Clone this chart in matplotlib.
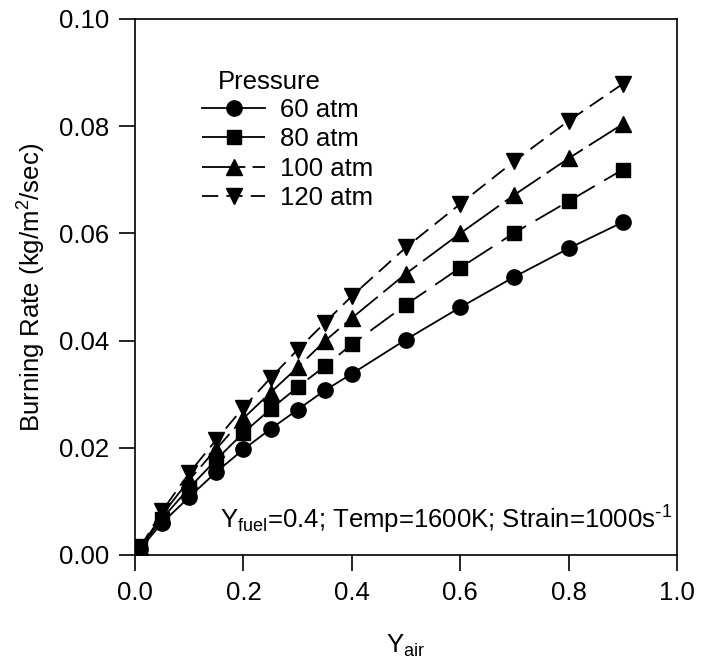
import matplotlib
matplotlib.use("Agg")
import matplotlib.pyplot as plt

plt.rcParams['font.family'] = ['Liberation Sans', 'DejaVu Sans']
plt.rcParams['mathtext.default'] = 'regular'

y_air = [0.01, 0.05, 0.10, 0.15, 0.20, 0.25, 0.30, 0.35, 0.40, 0.50, 0.60, 0.70, 0.80, 0.90]
rate_60 = [0.0012, 0.0060, 0.0108, 0.0155, 0.0197, 0.0235, 0.0271, 0.0307, 0.0338, 0.0402, 0.0462, 0.0519, 0.0572, 0.0621]
rate_80 = [0.0013, 0.0068, 0.0125, 0.0178, 0.0228, 0.0272, 0.0313, 0.0352, 0.0393, 0.0467, 0.0536, 0.0601, 0.0660, 0.0719]
rate_100 = [0.0014, 0.0075, 0.0140, 0.0198, 0.0255, 0.0303, 0.0350, 0.0399, 0.0442, 0.0525, 0.0600, 0.0672, 0.0740, 0.0804]
rate_120 = [0.0015, 0.0082, 0.0153, 0.0215, 0.0275, 0.0330, 0.0383, 0.0433, 0.0483, 0.0574, 0.0655, 0.0735, 0.0810, 0.0879]
labels = ["60 atm", "80 atm", "100 atm", "120 atm"]

FS = 18.5
fig = plt.figure(figsize=(7.08, 6.69), dpi=100)
ax = fig.add_axes([135/708, 1-555/669, (677-135)/708, (555-19)/669])

lw = 1.3
ax.plot(y_air, rate_60, color='black', lw=lw, linestyle='-', marker='o', markersize=11, label=labels[0])
ax.plot(y_air, rate_80, color='black', lw=lw, linestyle=(0, (16, 6)), marker='s', markersize=9.5, label=labels[1])
ax.plot(y_air, rate_100, color='black', lw=lw, linestyle=(0, (24, 4)), marker='^', markersize=11, label=labels[2])
ax.plot(y_air, rate_120, color='black', lw=lw, linestyle=(0, (9, 4.5)), marker='v', markersize=11, label=labels[3])

ax.set_xlim(0, 1.0)
ax.set_ylim(0, 0.10)
ax.set_xticks([0.0, 0.2, 0.4, 0.6, 0.8, 1.0])
ax.set_yticks([0.00, 0.02, 0.04, 0.06, 0.08, 0.10])
ax.set_xticklabels(["0.0", "0.2", "0.4", "0.6", "0.8", "1.0"])
ax.set_yticklabels(["0.00", "0.02", "0.04", "0.06", "0.08", "0.10"])
ax.tick_params(direction='out', length=11.5, width=1.2, labelsize=FS, pad=7)
for s in ax.spines.values():
    s.set_linewidth(1.2)

ax.set_xlabel(r"Y$_{air}$", fontsize=FS, labelpad=20)
ax.set_ylabel(r"Burning Rate (kg/m$^2$/sec)", fontsize=FS, labelpad=8)

leg = ax.legend(loc='upper left', bbox_to_anchor=(0.124, 0.852), frameon=False, fontsize=FS,
                handlelength=2.45, handletextpad=0.58, labelspacing=0.2, borderaxespad=0,
                borderpad=0)
ax.text(0.153, 0.0882, "Pressure", fontsize=FS, ha='left', va='center')

ax.text(0.991, 0.0065, r"Y$_{fuel}$=0.4; Temp=1600K; Strain=1000s$^{\text{-}1}$", fontsize=FS,
        ha='right', va='center')

fig.savefig("out.png", dpi=100)
